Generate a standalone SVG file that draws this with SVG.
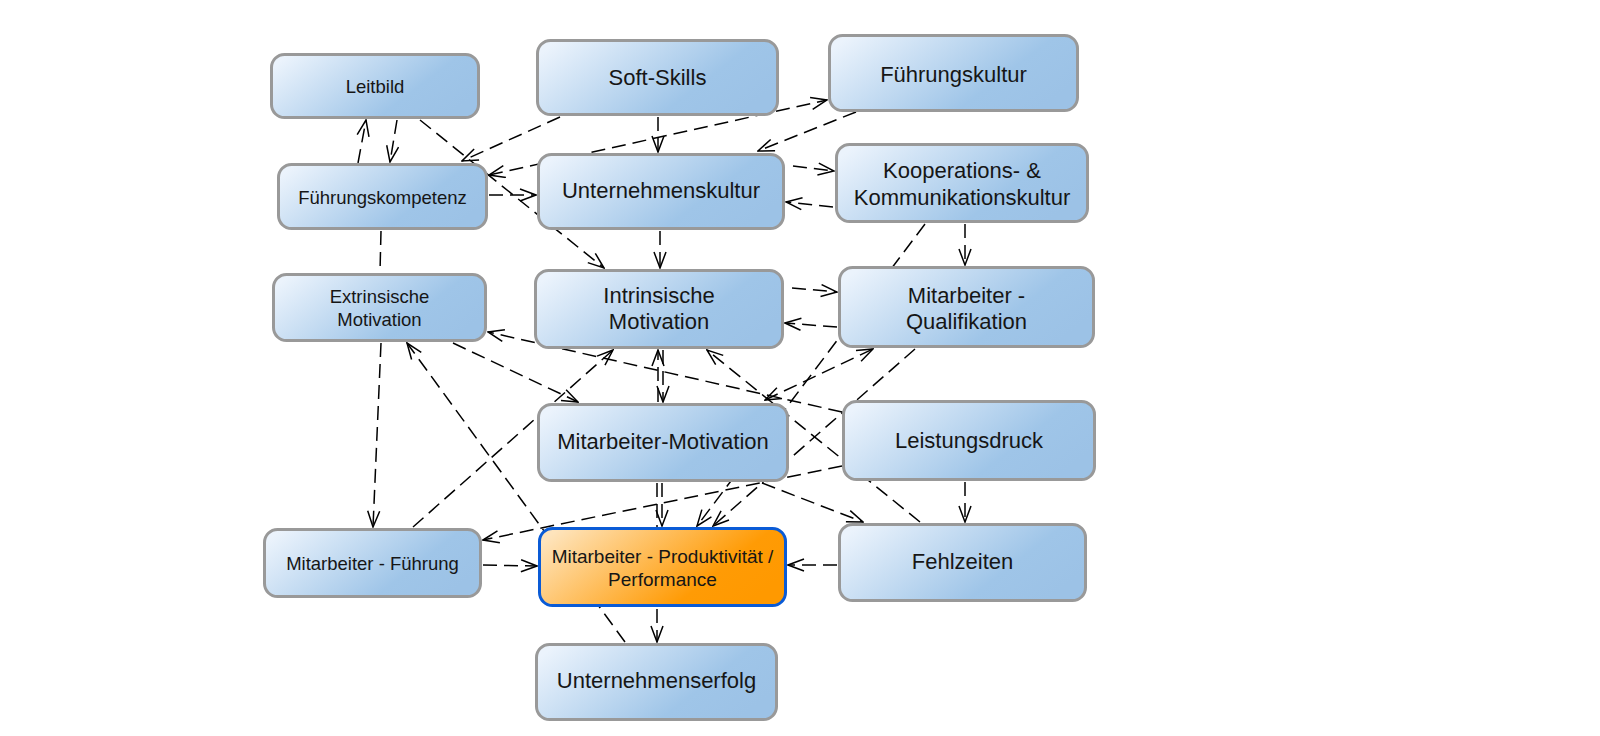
<svg xmlns="http://www.w3.org/2000/svg" width="1600" height="736" viewBox="0 0 1600 736">
<style>
.n rect{stroke:#999999;stroke-width:3}
.b rect{fill:url(#gb)}
.o rect{fill:url(#go);stroke:#0a5bd6}
text{font-family:"Liberation Sans",Arial,sans-serif;fill:#161616;text-anchor:middle}
.L{font-size:22px}
.S{font-size:18.5px}
.M{font-size:19px}
#edges line{stroke:#000;stroke-width:1.5;stroke-dasharray:14 7;fill:none}
.e{marker-end:url(#ah)}
.bi{marker-start:url(#ah);marker-end:url(#ah)}
</style>
<defs>
<linearGradient id="gb" x1="0" y1="0.2" x2="1" y2="0.6">
<stop offset="0" stop-color="#ebf3fc"/>
<stop offset="0.72" stop-color="#9fc5e8"/>
<stop offset="1" stop-color="#9cc2e6"/>
</linearGradient>
<linearGradient id="go" x1="0" y1="0.2" x2="1" y2="0.6">
<stop offset="0" stop-color="#fee4bc"/>
<stop offset="0.75" stop-color="#ff9b05"/>
<stop offset="1" stop-color="#ff9900"/>
</linearGradient>
<marker id="ah" viewBox="0 0 18 14" markerWidth="18" markerHeight="14" refX="17" refY="7" orient="auto-start-reverse" markerUnits="userSpaceOnUse">
<path d="M1,1 L17,7 L1,13" fill="none" stroke="#000" stroke-width="1.5" stroke-dasharray="none"/>
</marker>
</defs>
<rect width="1600" height="736" fill="#ffffff"/>
<g id="edges">
<line class="e" x1="358" y1="163" x2="366" y2="120"/>
<line class="e" x1="397" y1="120" x2="390" y2="162"/>
<line class="e" x1="420" y1="120" x2="604" y2="268"/>
<line class="e" x1="560" y1="117" x2="462" y2="161"/>
<line class="bi" x1="489" y1="175" x2="827" y2="100"/>
<line class="e" x1="856" y1="112" x2="758" y2="151"/>
<line class="e" x1="489" y1="195" x2="536" y2="195"/>
<line class="e" x1="658" y1="117" x2="658" y2="152"/>
<line class="e" x1="793" y1="166" x2="834" y2="171"/>
<line class="e" x1="833" y1="207" x2="786" y2="202"/>
<line class="e" x1="660" y1="231" x2="660" y2="268"/>
<line class="e" x1="965" y1="224" x2="965" y2="265"/>
<line class="e" x1="925" y1="224" x2="697" y2="526"/>
<line x1="381" y1="231" x2="380" y2="272"/>
<line class="e" x1="792" y1="288" x2="837" y2="292"/>
<line class="e" x1="837" y1="327" x2="785" y2="323"/>
<line class="e" x1="842" y1="412" x2="488" y2="332"/>
<line class="e" x1="663" y1="350" x2="663" y2="402"/>
<line class="e" x1="658" y1="402" x2="658" y2="350"/>
<line class="e" x1="453" y1="343" x2="578" y2="402"/>
<line class="e" x1="413" y1="527" x2="613" y2="350"/>
<line class="e" x1="625" y1="642" x2="407" y2="343"/>
<line class="e" x1="381" y1="343" x2="373" y2="527"/>
<line class="bi" x1="765" y1="400" x2="873" y2="349"/>
<line class="e" x1="915" y1="349" x2="713" y2="526"/>
<line class="e" x1="920" y1="522" x2="707" y2="350"/>
<line class="e" x1="842" y1="466" x2="483" y2="540"/>
<line class="e" x1="662" y1="483" x2="662" y2="526"/>
<line class="e" x1="657" y1="483" x2="657" y2="642"/>
<line class="e" x1="762" y1="483" x2="863" y2="522"/>
<line class="e" x1="965" y1="482" x2="965" y2="522"/>
<line class="e" x1="837" y1="565" x2="788" y2="565"/>
<line class="e" x1="483" y1="565" x2="537" y2="566"/>
</g>
<g id="leitbild" class="n b"><rect x="271.5" y="54.5" width="207" height="63" rx="13"/><text class="S" x="375" y="93">Leitbild</text></g>
<g id="softskills" class="n b"><rect x="537.5" y="40.5" width="240" height="74" rx="13"/><text class="L" x="657.5" y="85">Soft-Skills</text></g>
<g id="fuehrungskultur" class="n b"><rect x="829.5" y="35.5" width="248" height="75" rx="13"/><text class="L" x="953.5" y="82">Führungskultur</text></g>
<g id="fuehrungskompetenz" class="n b"><rect x="278.5" y="164.5" width="208" height="64" rx="13"/><text class="S" x="382.5" y="204">Führungskompetenz</text></g>
<g id="unternehmenskultur" class="n b"><rect x="538.5" y="154.5" width="245" height="74" rx="13"/><text class="L" x="661" y="198">Unternehmenskultur</text></g>
<g id="kooperation" class="n b"><rect x="836.5" y="144.5" width="251" height="77" rx="13"/><text class="L" x="962" y="178">Kooperations- &amp;</text><text class="L" x="962" y="205">Kommunikationskultur</text></g>
<g id="extrinsisch" class="n b"><rect x="273.5" y="274.5" width="212" height="66" rx="13"/><text class="S" x="379.5" y="302.5">Extrinsische</text><text class="S" x="379.5" y="326">Motivation</text></g>
<g id="intrinsisch" class="n b"><rect x="535.5" y="270.5" width="247" height="77" rx="13"/><text class="L" x="659" y="303">Intrinsische</text><text class="L" x="659" y="329">Motivation</text></g>
<g id="qualifikation" class="n b"><rect x="839.5" y="267.5" width="254" height="79" rx="13"/><text class="L" x="966.5" y="302.5">Mitarbeiter -</text><text class="L" x="966.5" y="329">Qualifikation</text></g>
<g id="motivation" class="n b"><rect x="538.5" y="404.5" width="249" height="76" rx="13"/><text class="L" x="663" y="449">Mitarbeiter-Motivation</text></g>
<g id="leistungsdruck" class="n b"><rect x="843.5" y="401.5" width="251" height="78" rx="13"/><text class="L" x="969" y="448">Leistungsdruck</text></g>
<g id="fuehrung" class="n b"><rect x="264.5" y="529.5" width="216" height="67" rx="13"/><text class="S" x="372.5" y="570">Mitarbeiter - Führung</text></g>
<g id="produktivitaet" class="n o"><rect x="539.5" y="528.5" width="246" height="77" rx="13"/><text class="M" x="662.5" y="562.5">Mitarbeiter - Produktivität /</text><text class="M" x="662.5" y="586">Performance</text></g>
<g id="fehlzeiten" class="n b"><rect x="839.5" y="524.5" width="246" height="76" rx="13"/><text class="L" x="962.5" y="569">Fehlzeiten</text></g>
<g id="erfolg" class="n b"><rect x="536.5" y="644.5" width="240" height="75" rx="13"/><text class="L" x="656.5" y="688">Unternehmenserfolg</text></g>
</svg>
